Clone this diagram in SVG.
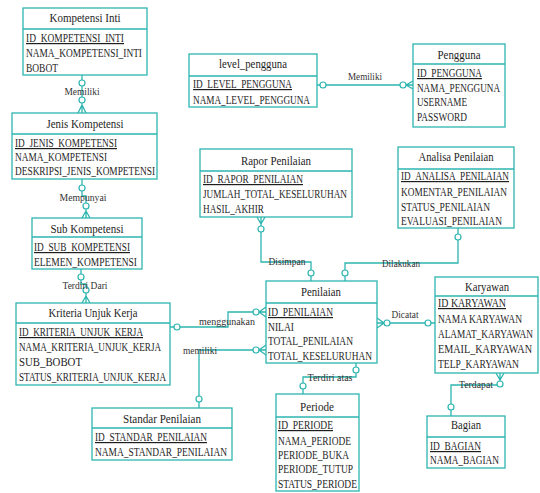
<svg xmlns="http://www.w3.org/2000/svg" width="540" height="493" viewBox="0 0 540 493">
<style>
.box{fill:#fff;stroke:#2db5b0;stroke-width:1.3}
.hd{fill:none;stroke:#2db5b0;stroke-width:1.3}
.t{font-family:"Liberation Serif",serif;font-size:12.5px;fill:#1e1e1e;text-anchor:middle}
.a{font-family:"Liberation Serif",serif;font-size:12px;fill:#1e1e1e}
.pk{text-decoration:underline}
.lbl{font-family:"Liberation Serif",serif;font-size:10px;fill:#333;text-anchor:middle}
.ln{fill:none;stroke:#2db5b0;stroke-width:1.3}
.c{fill:#fff;stroke:#2db5b0;stroke-width:1.2}
</style>
<rect width="540" height="493" fill="#fff"/>

<g id="connectors">
  <path class="ln" d="M82 75V113M78 113L82 105L86 113"/>
  <circle class="c" cx="82" cy="83" r="3"/>
  <circle class="c" cx="82" cy="100" r="3"/>
  <text class="lbl" x="82" y="95" textLength="35" lengthAdjust="spacingAndGlyphs">Memiliki</text>
  <path class="ln" d="M82 179V196H86V218M82 218L86 211L90 218"/>
  <circle class="c" cx="82" cy="188" r="3"/>
  <circle class="c" cx="86" cy="206" r="3"/>
  <text class="lbl" x="83" y="201" textLength="47" lengthAdjust="spacingAndGlyphs">Mempunyai</text>
  <path class="ln" d="M81 269V284H86V303M82 303L86 296L90 303"/>
  <circle class="c" cx="81" cy="277" r="3"/>
  <circle class="c" cx="86" cy="290" r="3"/>
  <text class="lbl" x="85" y="289" textLength="45" lengthAdjust="spacingAndGlyphs">Terdiri Dari</text>
  <path class="ln" d="M317 85H413M413 81L406 85L413 89"/>
  <circle class="c" cx="323" cy="85" r="3"/>
  <circle class="c" cx="403" cy="85" r="3"/>
  <text class="lbl" x="365" y="80" textLength="34" lengthAdjust="spacingAndGlyphs">Memiliki</text>
  <path class="ln" d="M261 217V262H311V281M257 217L261 224L265 217"/>
  <circle class="c" cx="261" cy="229" r="3"/>
  <circle class="c" cx="311" cy="273" r="3"/>
  <text class="lbl" x="287" y="265" textLength="37" lengthAdjust="spacingAndGlyphs">Disimpan</text>
  <path class="ln" d="M458 228V263H345V281"/>
  <circle class="c" cx="458" cy="237" r="3"/>
  <circle class="c" cx="345" cy="273" r="3"/>
  <text class="lbl" x="401" y="267" textLength="38" lengthAdjust="spacingAndGlyphs">Dilakukan</text>
  <path class="ln" d="M170 327H228V312H266M266 307L259 312L266 317"/>
  <circle class="c" cx="177" cy="327" r="3"/>
  <circle class="c" cx="256" cy="312" r="3"/>
  <text class="lbl" x="227" y="325" textLength="56" lengthAdjust="spacingAndGlyphs">menggunakan</text>
  <path class="ln" d="M199 408V350H266M266 345L259 350L266 355"/>
  <circle class="c" cx="199" cy="399" r="3"/>
  <circle class="c" cx="256" cy="350" r="3"/>
  <text class="lbl" x="200" y="354" textLength="34" lengthAdjust="spacingAndGlyphs">memiliki</text>
  <path class="ln" d="M377 323H436M377 318L384 323L377 328"/>
  <circle class="c" cx="387" cy="323" r="3"/>
  <circle class="c" cx="428" cy="323" r="3"/>
  <text class="lbl" x="405" y="318" textLength="27" lengthAdjust="spacingAndGlyphs">Dicatat</text>
  <path class="ln" d="M356 363V377H303V394"/>
  <circle class="c" cx="356" cy="370" r="3"/>
  <circle class="c" cx="303" cy="386" r="3"/>
  <text class="lbl" x="330" y="381" textLength="45" lengthAdjust="spacingAndGlyphs">Terdiri atas</text>
  <path class="ln" d="M500 373V381M496 373L500 380L504 373M497 385H451V416"/>
  <circle class="c" cx="500" cy="384" r="3"/>
  <circle class="c" cx="451" cy="407" r="3"/>
  <text class="lbl" x="476" y="388" textLength="34" lengthAdjust="spacingAndGlyphs">Terdapat</text>
</g>

<g id="kompetensi-inti">
  <rect class="box" x="23" y="8" width="124" height="67"/>
  <path class="hd" d="M23 29H147"/>
  <text class="t" x="85" y="22" textLength="71" lengthAdjust="spacingAndGlyphs">Kompetensi Inti</text>
  <text class="a pk" x="26" y="42" textLength="98" lengthAdjust="spacingAndGlyphs">ID_KOMPETENSI_INTI</text>
  <text class="a" x="26" y="57" textLength="116" lengthAdjust="spacingAndGlyphs">NAMA_KOMPETENSI_INTI</text>
  <text class="a" x="26" y="72" textLength="32" lengthAdjust="spacingAndGlyphs">BOBOT</text>
</g>

<g id="jenis-kompetensi">
  <rect class="box" x="12" y="113" width="145" height="66"/>
  <path class="hd" d="M12 134H157"/>
  <text class="t" x="85" y="128" textLength="77" lengthAdjust="spacingAndGlyphs">Jenis Kompetensi</text>
  <text class="a pk" x="15" y="147" textLength="102" lengthAdjust="spacingAndGlyphs">ID_JENIS_KOMPETENSI</text>
  <text class="a" x="15" y="161" textLength="92" lengthAdjust="spacingAndGlyphs">NAMA_KOMPETENSI</text>
  <text class="a" x="15" y="175" textLength="140" lengthAdjust="spacingAndGlyphs">DESKRIPSI_JENIS_KOMPETENSI</text>
</g>

<g id="sub-kompetensi">
  <rect class="box" x="32" y="218" width="110" height="51"/>
  <path class="hd" d="M32 237H142"/>
  <text class="t" x="87" y="233" textLength="73" lengthAdjust="spacingAndGlyphs">Sub Kompetensi</text>
  <text class="a pk" x="34" y="251" textLength="96" lengthAdjust="spacingAndGlyphs">ID_SUB_KOMPETENSI</text>
  <text class="a" x="34" y="266" textLength="103" lengthAdjust="spacingAndGlyphs">ELEMEN_KOMPETENSI</text>
</g>

<g id="kriteria-unjuk-kerja">
  <rect class="box" x="16" y="303" width="154" height="82"/>
  <path class="hd" d="M16 323H170"/>
  <text class="t" x="93" y="317" textLength="89" lengthAdjust="spacingAndGlyphs">Kriteria Unjuk Kerja</text>
  <text class="a pk" x="19" y="336" textLength="124" lengthAdjust="spacingAndGlyphs">ID_KRITERIA_UNJUK_KERJA</text>
  <text class="a" x="19" y="351" textLength="142" lengthAdjust="spacingAndGlyphs">NAMA_KRITERIA_UNJUK_KERJA</text>
  <text class="a" x="19" y="366" textLength="63" lengthAdjust="spacingAndGlyphs">SUB_BOBOT</text>
  <text class="a" x="19" y="381" textLength="147" lengthAdjust="spacingAndGlyphs">STATUS_KRITERIA_UNJUK_KERJA</text>
</g>

<g id="level-pengguna">
  <rect class="box" x="189" y="54" width="128" height="53"/>
  <path class="hd" d="M189 76H317"/>
  <text class="t" x="253" y="68" textLength="68" lengthAdjust="spacingAndGlyphs">level_pengguna</text>
  <text class="a pk" x="193" y="88" textLength="99" lengthAdjust="spacingAndGlyphs">ID_LEVEL_PENGGUNA</text>
  <text class="a" x="193" y="104" textLength="117" lengthAdjust="spacingAndGlyphs">NAMA_LEVEL_PENGGUNA</text>
</g>

<g id="pengguna">
  <rect class="box" x="413" y="44" width="92" height="83"/>
  <path class="hd" d="M413 64H505"/>
  <text class="t" x="459" y="59" textLength="43" lengthAdjust="spacingAndGlyphs">Pengguna</text>
  <text class="a pk" x="417" y="77" textLength="65" lengthAdjust="spacingAndGlyphs">ID_PENGGUNA</text>
  <text class="a" x="417" y="92" textLength="83" lengthAdjust="spacingAndGlyphs">NAMA_PENGGUNA</text>
  <text class="a" x="417" y="106" textLength="50" lengthAdjust="spacingAndGlyphs">USERNAME</text>
  <text class="a" x="417" y="121" textLength="50" lengthAdjust="spacingAndGlyphs">PASSWORD</text>
</g>

<g id="rapor-penilaian">
  <rect class="box" x="200" y="149" width="152" height="68"/>
  <path class="hd" d="M200 171H352"/>
  <text class="t" x="276" y="165" textLength="70" lengthAdjust="spacingAndGlyphs">Rapor Penilaian</text>
  <text class="a pk" x="203" y="183" textLength="100" lengthAdjust="spacingAndGlyphs">ID_RAPOR_PENILAIAN</text>
  <text class="a" x="203" y="198" textLength="144" lengthAdjust="spacingAndGlyphs">JUMLAH_TOTAL_KESELURUHAN</text>
  <text class="a" x="203" y="213" textLength="61" lengthAdjust="spacingAndGlyphs">HASIL_AKHIR</text>
</g>

<g id="analisa-penilaian">
  <rect class="box" x="398" y="147" width="116" height="81"/>
  <path class="hd" d="M398 169H514"/>
  <text class="t" x="456" y="161" textLength="75" lengthAdjust="spacingAndGlyphs">Analisa Penilaian</text>
  <text class="a pk" x="401" y="180" textLength="108" lengthAdjust="spacingAndGlyphs">ID_ANALISA_PENILAIAN</text>
  <text class="a" x="401" y="196" textLength="106" lengthAdjust="spacingAndGlyphs">KOMENTAR_PENILAIAN</text>
  <text class="a" x="401" y="211" textLength="89" lengthAdjust="spacingAndGlyphs">STATUS_PENILAIAN</text>
  <text class="a" x="401" y="225" textLength="101" lengthAdjust="spacingAndGlyphs">EVALUASI_PENILAIAN</text>
</g>

<g id="penilaian">
  <rect class="box" x="266" y="281" width="111" height="82"/>
  <path class="hd" d="M266 303H377"/>
  <text class="t" x="321" y="296" textLength="40" lengthAdjust="spacingAndGlyphs">Penilaian</text>
  <text class="a pk" x="268" y="316" textLength="65" lengthAdjust="spacingAndGlyphs">ID_PENILAIAN</text>
  <text class="a" x="268" y="331" textLength="26" lengthAdjust="spacingAndGlyphs">NILAI</text>
  <text class="a" x="268" y="345" textLength="85" lengthAdjust="spacingAndGlyphs">TOTAL_PENILAIAN</text>
  <text class="a" x="268" y="360" textLength="104" lengthAdjust="spacingAndGlyphs">TOTAL_KESELURUHAN</text>
</g>

<g id="karyawan">
  <rect class="box" x="435" y="277" width="103" height="96"/>
  <path class="hd" d="M435 296H538"/>
  <text class="t" x="487" y="291" textLength="44" lengthAdjust="spacingAndGlyphs">Karyawan</text>
  <text class="a pk" x="438" y="307" textLength="68" lengthAdjust="spacingAndGlyphs">ID KARYAWAN</text>
  <text class="a" x="438" y="323" textLength="84" lengthAdjust="spacingAndGlyphs">NAMA KARYAWAN</text>
  <text class="a" x="438" y="338" textLength="95" lengthAdjust="spacingAndGlyphs">ALAMAT_KARYAWAN</text>
  <text class="a" x="438" y="353" textLength="94" lengthAdjust="spacingAndGlyphs">EMAIL_KARYAWAN</text>
  <text class="a" x="438" y="368" textLength="81" lengthAdjust="spacingAndGlyphs">TELP_KARYAWAN</text>
</g>

<g id="standar-penilaian">
  <rect class="box" x="92" y="408" width="140" height="52"/>
  <path class="hd" d="M92 428H232"/>
  <text class="t" x="162" y="423" textLength="78" lengthAdjust="spacingAndGlyphs">Standar Penilaian</text>
  <text class="a pk" x="95" y="441" textLength="112" lengthAdjust="spacingAndGlyphs">ID_STANDAR_PENILAIAN</text>
  <text class="a" x="95" y="456" textLength="132" lengthAdjust="spacingAndGlyphs">NAMA_STANDAR_PENILAIAN</text>
</g>

<g id="periode">
  <rect class="box" x="276" y="394" width="83" height="97"/>
  <path class="hd" d="M276 417H359"/>
  <text class="t" x="317" y="411" textLength="34" lengthAdjust="spacingAndGlyphs">Periode</text>
  <text class="a pk" x="278" y="429" textLength="55" lengthAdjust="spacingAndGlyphs">ID_PERIODE</text>
  <text class="a" x="278" y="445" textLength="73" lengthAdjust="spacingAndGlyphs">NAMA_PERIODE</text>
  <text class="a" x="278" y="459" textLength="71" lengthAdjust="spacingAndGlyphs">PERIODE_BUKA</text>
  <text class="a" x="278" y="473" textLength="75" lengthAdjust="spacingAndGlyphs">PERIODE_TUTUP</text>
  <text class="a" x="278" y="488" textLength="79" lengthAdjust="spacingAndGlyphs">STATUS_PERIODE</text>
</g>

<g id="bagian">
  <rect class="box" x="427" y="416" width="78" height="52"/>
  <path class="hd" d="M427 437H505"/>
  <text class="t" x="466" y="429" textLength="30" lengthAdjust="spacingAndGlyphs">Bagian</text>
  <text class="a pk" x="430" y="450" textLength="51" lengthAdjust="spacingAndGlyphs">ID_BAGIAN</text>
  <text class="a" x="430" y="464" textLength="69" lengthAdjust="spacingAndGlyphs">NAMA_BAGIAN</text>
</g>
</svg>
